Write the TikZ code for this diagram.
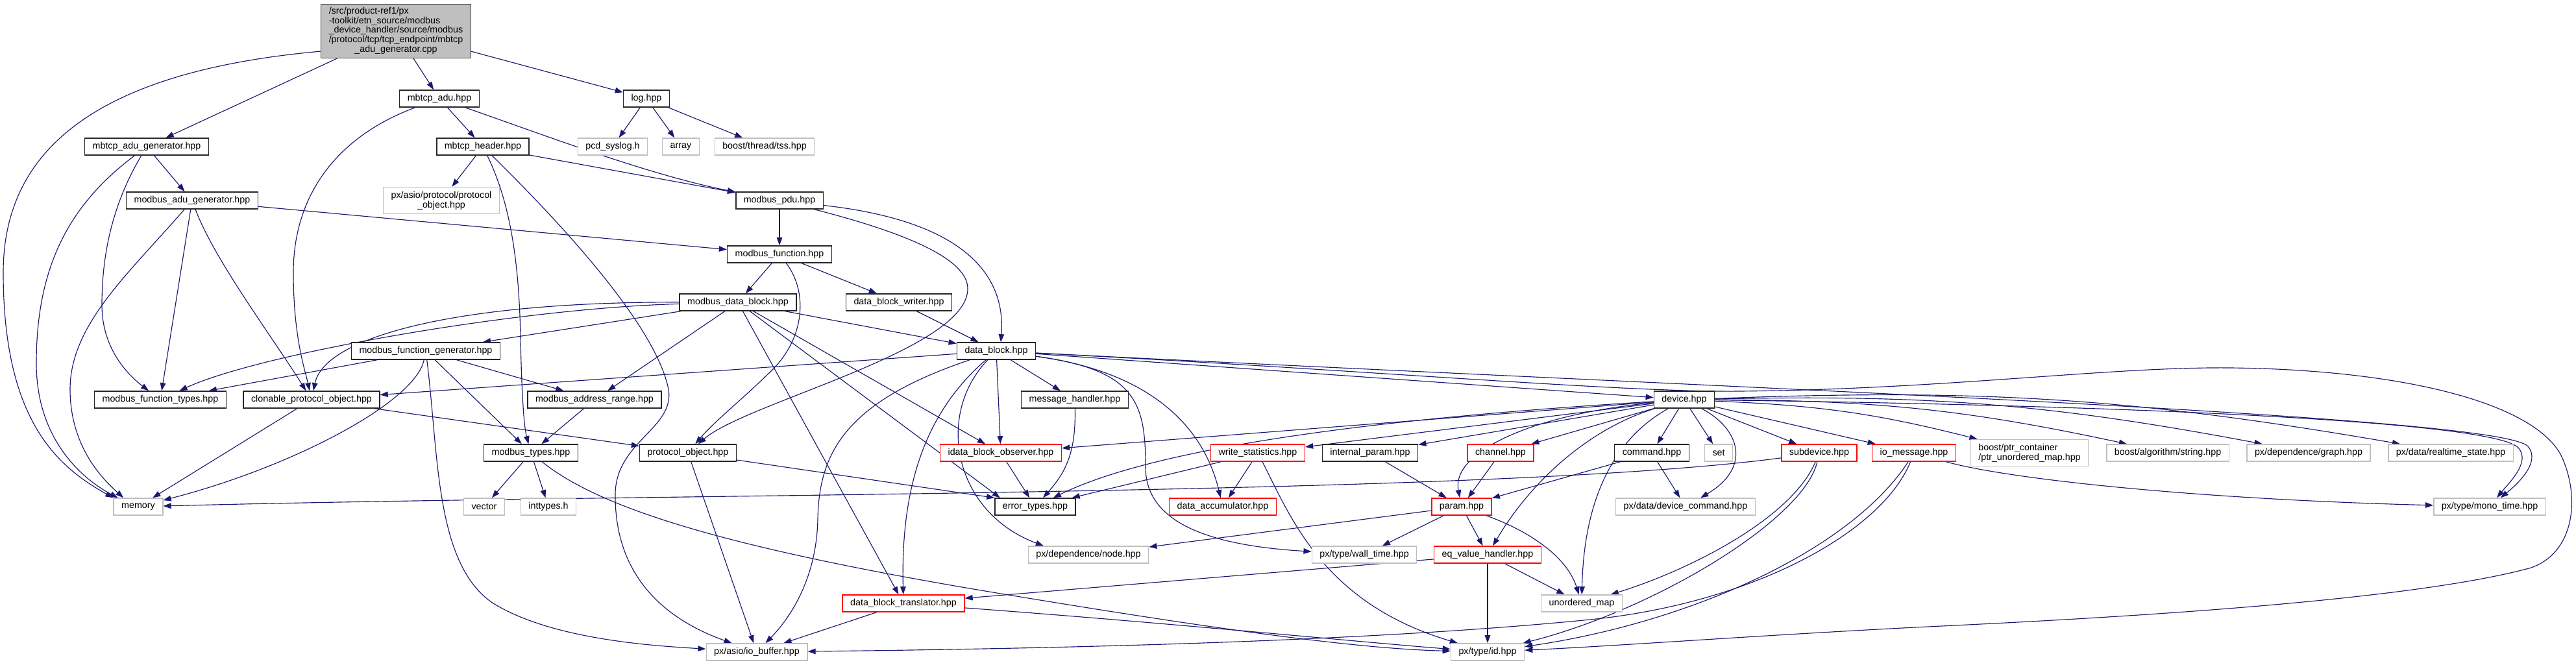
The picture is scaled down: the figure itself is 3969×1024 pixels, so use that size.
\documentclass[tikz,border=0pt]{standalone}
\usepackage{fontspec}
\setmainfont{Liberation Sans}
\usetikzlibrary{arrows.meta, backgrounds}
\definecolor{edgeblue}{HTML}{191970}
\definecolor{extgray}{HTML}{BFBFBF}
\definecolor{maingray}{HTML}{BFBFBF}
\definecolor{truncred}{HTML}{FF0000}

\begin{document}
\begin{tikzpicture}[
    x=0.7pt, y=-0.7pt,
    % Styles
    hdr/.style={
      rectangle, draw=black!85, line width=1pt, fill=white,
      font=\fontsize{10}{10.4}\selectfont,
      inner xsep=8.4pt, inner ysep=2pt, minimum height=18.2pt
    },
    ext_hdr/.style={hdr, draw=extgray},
    trunc_hdr/.style={hdr, draw=truncred},
    main_file/.style={hdr, fill=maingray, draw=black!75, inner ysep=3pt},
    incl_arrow/.style={
      draw=edgeblue, line width=0.8pt,
      -{Triangle[length=8.5pt,width=6pt]}
    }
  ]

  \useasboundingbox (0,0) rectangle (3969,1024);

  % --- 1. NODES (one row per rank) ---

  % rank 0: the source file
  \node[main_file] (cpp) at (610,48) {\begin{tabular}{@{}l@{}}
      /src/product-ref1/px\\
      -toolkit/etn\_source/modbus\\
      \_device\_handler/source/modbus\\
      /protocol/tcp/tcp\_endpoint/mbtcp\\
      \multicolumn{1}{@{}c@{}}{\_adu\_generator.cpp}
    \end{tabular}};

  % rank 1
  \node[hdr] (mbtcp_adu) at (677,152) {mbtcp\_adu.hpp};
  \node[hdr] (log) at (996,152) {log.hpp};

  % rank 2
  \node[hdr] (mbtcp_adu_gen) at (226,226) {mbtcp\_adu\_generator.hpp};
  \node[hdr] (mbtcp_header) at (744,226) {mbtcp\_header.hpp};
  \node[ext_hdr] (pcd_syslog) at (944,226) {pcd\_syslog.h};
  \node[ext_hdr] (array) at (1049,226) {array};
  \node[ext_hdr] (tss) at (1178,226) {boost/thread/tss.hpp};

  % rank 3
  \node[hdr] (modbus_adu_gen) at (296,309) {modbus\_adu\_generator.hpp};
  \node[ext_hdr, align=center, minimum height=28.7pt] (asio_proto_obj) at (680,309) {px/asio/protocol/protocol\\\_object.hpp};
  \node[hdr] (modbus_pdu) at (1201,309) {modbus\_pdu.hpp};

  % rank 4
  \node[hdr] (modbus_function) at (1201,392) {modbus\_function.hpp};

  % rank 5
  \node[hdr] (modbus_data_block) at (1137,466) {modbus\_data\_block.hpp};
  \node[hdr] (data_block_writer) at (1385,466) {data\_block\_writer.hpp};

  % rank 6
  \node[hdr] (modbus_func_gen) at (656,541) {modbus\_function\_generator.hpp};
  \node[hdr] (data_block) at (1535,541) {data\_block.hpp};

  % rank 7
  \node[hdr] (modbus_func_types) at (247,616) {modbus\_function\_types.hpp};
  \node[hdr] (clonable) at (480,616) {clonable\_protocol\_object.hpp};
  \node[hdr] (addr_range) at (916,616) {modbus\_address\_range.hpp};
  \node[hdr] (msg_handler) at (1656,616) {message\_handler.hpp};
  \node[hdr] (device) at (2595,616) {device.hpp};

  % rank 8
  \node[hdr] (modbus_types) at (818,698) {modbus\_types.hpp};
  \node[hdr] (protocol_object) at (1060,698) {protocol\_object.hpp};
  \node[trunc_hdr] (observer) at (1542,698) {idata\_block\_observer.hpp};
  \node[trunc_hdr] (write_stats) at (1938,698) {write\_statistics.hpp};
  \node[hdr] (internal_param) at (2111,698) {internal\_param.hpp};
  \node[trunc_hdr] (channel) at (2312,698) {channel.hpp};
  \node[hdr] (command) at (2545,698) {command.hpp};
  \node[ext_hdr] (set_hdr) at (2648,698) {set};
  \node[trunc_hdr] (subdevice) at (2803,698) {subdevice.hpp};
  \node[trunc_hdr] (io_message) at (2949,698) {io\_message.hpp};
  \node[ext_hdr, align=left, minimum height=28.7pt] (ptr_umap) at (3127,698) {boost/ptr\_container\\/ptr\_unordered\_map.hpp};
  \node[ext_hdr] (algo_string) at (3340,698) {boost/algorithm/string.hpp};
  \node[ext_hdr] (dep_graph) at (3557,698) {px/dependence/graph.hpp};
  \node[ext_hdr] (realtime_state) at (3776,698) {px/data/realtime\_state.hpp};

  % rank 9
  \node[ext_hdr] (memory) at (213,781) {memory};
  \node[ext_hdr] (vector) at (746,781) {vector};
  \node[ext_hdr] (inttypes) at (845,781) {inttypes.h};
  \node[hdr] (error_types) at (1595,781) {error\_types.hpp};
  \node[trunc_hdr] (data_acc) at (1884,781) {data\_accumulator.hpp};
  \node[trunc_hdr] (param) at (2252,781) {param.hpp};
  \node[ext_hdr] (device_command) at (2597,781) {px/data/device\_command.hpp};
  \node[ext_hdr] (mono_time) at (3836,781) {px/type/mono\_time.hpp};

  % rank 10
  \node[ext_hdr] (dep_node) at (1677,855) {px/dependence/node.hpp};
  \node[ext_hdr] (wall_time) at (2102,855) {px/type/wall\_time.hpp};
  \node[trunc_hdr] (eq_value) at (2292,855) {eq\_value\_handler.hpp};

  % rank 11
  \node[trunc_hdr] (translator) at (1392,930) {data\_block\_translator.hpp};
  \node[ext_hdr] (unordered_map) at (2437,930) {unordered\_map};

  % rank 12
  \node[ext_hdr] (io_buffer) at (1166,1005) {px/asio/io\_buffer.hpp};
  \node[ext_hdr] (type_id) at (2292,1005) {px/type/id.hpp};

  % --- 2. EDGES (includes), behind the boxes ---
  \begin{scope}[on background layer]

    % the .cpp file
    \draw[incl_arrow] (cpp.195) .. controls (150,110) and (5,230) .. (5,420) .. controls (5,650) and (90,720) .. (memory.north west);
    \draw[incl_arrow] (cpp) -- (mbtcp_adu_gen);
    \draw[incl_arrow] (cpp) -- (mbtcp_adu);
    \draw[incl_arrow] (cpp) -- (log);

    % mbtcp_adu.hpp
    \draw[incl_arrow] (mbtcp_adu) -- (mbtcp_header);
    \draw[incl_arrow] (mbtcp_adu) .. controls (830,205) and (1000,270) .. (modbus_pdu);
    \draw[incl_arrow] (mbtcp_adu) .. controls (520,210) and (452,300) .. (452,420) .. controls (452,520) and (470,570) .. (clonable);

    % log.hpp
    \draw[incl_arrow] (log) -- (pcd_syslog);
    \draw[incl_arrow] (log) -- (array);
    \draw[incl_arrow] (log) -- (tss);

    % mbtcp_adu_generator.hpp
    \draw[incl_arrow] (mbtcp_adu_gen) -- (modbus_adu_gen);
    \draw[incl_arrow] (mbtcp_adu_gen) .. controls (170,320) and (157,400) .. (157,470) .. controls (157,540) and (200,580) .. (modbus_func_types);
    \draw[incl_arrow] (mbtcp_adu_gen) .. controls (100,320) and (56,420) .. (56,560) .. controls (56,680) and (130,740) .. ([xshift=5pt]memory.north west);

    % mbtcp_header.hpp
    \draw[incl_arrow] (mbtcp_header) -- (asio_proto_obj);
    \draw[incl_arrow] (mbtcp_header) -- (modbus_pdu);
    \draw[incl_arrow] (mbtcp_header) .. controls (790,320) and (800,420) .. (802,520) .. controls (804,620) and (808,660) .. (modbus_types);
    \draw[incl_arrow] (mbtcp_header) .. controls (860,340) and (1010,500) .. (1030,600) .. controls (1040,660) and (950,680) .. (948,760) .. controls (946,900) and (1040,960) .. (io_buffer);

    % modbus_adu_generator.hpp
    \draw[incl_arrow] (modbus_adu_gen) -- (modbus_function);
    \draw[incl_arrow] (modbus_adu_gen) -- (modbus_func_types);
    \draw[incl_arrow] (modbus_adu_gen) .. controls (330,400) and (420,520) .. (clonable);
    \draw[incl_arrow] (modbus_adu_gen) .. controls (200,420) and (108,500) .. (108,600) .. controls (108,690) and (160,740) .. ([xshift=11pt]memory.north west);

    % modbus_pdu.hpp
    \draw[incl_arrow] (modbus_pdu) -- (modbus_function);
    \draw[incl_arrow] (modbus_pdu) .. controls (1400,360) and (1491,400) .. (1491,445) .. controls (1491,540) and (1150,620) .. (protocol_object);
    \draw[incl_arrow] (modbus_pdu) .. controls (1480,340) and (1550,420) .. ([xshift=4.9pt]data_block.north);

    % modbus_function.hpp
    \draw[incl_arrow] (modbus_function) -- (modbus_data_block);
    \draw[incl_arrow] (modbus_function) -- (data_block_writer);
    \draw[incl_arrow] (modbus_function) .. controls (1245,450) and (1240,520) .. (1190,570) .. controls (1150,610) and (1100,650) .. (protocol_object);

    % data_block_writer.hpp
    \draw[incl_arrow] (data_block_writer) -- (data_block);

    % modbus_data_block.hpp
    \draw[incl_arrow] (modbus_data_block) -- (data_block);
    \draw[incl_arrow] (modbus_data_block) .. controls (800,475) and (400,545) .. (modbus_func_types);
    \draw[incl_arrow] (modbus_data_block) .. controls (700,465) and (500,520) .. (clonable);
    \draw[incl_arrow] (modbus_data_block) -- (modbus_func_gen);
    \draw[incl_arrow] (modbus_data_block) -- (addr_range);
    \draw[incl_arrow] (modbus_data_block) -- (translator);
    \draw[incl_arrow] (modbus_data_block) -- ([xshift=6pt]error_types.north west);
    \draw[incl_arrow] (modbus_data_block) -- (observer);

    % data_block.hpp
    \draw[incl_arrow] (data_block) -- (clonable);
    \draw[incl_arrow] (data_block) .. controls (1300,620) and (1262,700) .. (1260,800) .. controls (1258,900) and (1210,960) .. (io_buffer);
    \draw[incl_arrow] (data_block) .. controls (1420,640) and (1388,760) .. (translator);
    \draw[incl_arrow] (data_block) .. controls (1440,640) and (1470,790) .. ([xshift=17pt]dep_node.north west);
    \draw[incl_arrow] (data_block) -- (observer);
    \draw[incl_arrow] (data_block) -- (msg_handler);
    \draw[incl_arrow] (data_block) -- (device);
    \draw[incl_arrow] (data_block) .. controls (1750,570) and (1765,620) .. (1765,720) .. controls (1765,800) and (1850,840) .. (wall_time);
    \draw[incl_arrow] (data_block) .. controls (1750,570) and (1850,640) .. (data_acc);
    \draw[incl_arrow] (data_block) .. controls (2700,600) and (3850,640) .. (3895,688) .. controls (3915,712) and (3880,745) .. (mono_time);
    \draw[incl_arrow] (data_block) .. controls (2100,570) and (2500,605) .. (2680,603) .. controls (3000,600) and (3250,565) .. (3437,567) .. controls (3700,570) and (3900,620) .. (3945,700) .. controls (3975,760) and (3970,850) .. (3900,875) .. controls (3700,930) and (3200,955) .. (2950,967) .. controls (2700,980) and (2500,995) .. (type_id);

    % message_handler.hpp
    \draw[incl_arrow] (msg_handler) .. controls (1658,700) and (1640,730) .. (error_types);

    % device.hpp
    \draw[incl_arrow] (device) -- (observer);
    \draw[incl_arrow] (device) .. controls (2200,640) and (1800,680) .. (error_types);
    \draw[incl_arrow] (device) -- (write_stats);
    \draw[incl_arrow] (device) -- (internal_param);
    \draw[incl_arrow] (device) -- (channel);
    \draw[incl_arrow] (device) .. controls (2350,640) and (2236,700) .. (param);
    \draw[incl_arrow] (device) .. controls (2450,660) and (2360,740) .. (eq_value);
    \draw[incl_arrow] (device) .. controls (2480,680) and (2440,780) .. (unordered_map);
    \draw[incl_arrow] (device) -- (command);
    \draw[incl_arrow] (device) -- (set_hdr);
    \draw[incl_arrow] (device) .. controls (2680,660) and (2700,720) .. (device_command);
    \draw[incl_arrow] (device) -- (subdevice);
    \draw[incl_arrow] (device) -- (io_message);
    \draw[incl_arrow] (device) to[bend left=6] (ptr_umap);
    \draw[incl_arrow] (device) to[bend left=6] (algo_string);
    \draw[incl_arrow] (device) to[bend left=6] (dep_graph);
    \draw[incl_arrow] (device) to[bend left=6] (realtime_state);
    \draw[incl_arrow] (device) .. controls (3300,625) and (3840,650) .. (3880,690) .. controls (3900,712) and (3865,745) .. (mono_time);

    % write_statistics.hpp
    \draw[incl_arrow] (write_stats) -- (error_types);
    \draw[incl_arrow] (write_stats) -- (data_acc);
    \draw[incl_arrow] (write_stats) .. controls (1990,800) and (2040,930) .. (type_id);

    % internal_param.hpp, channel.hpp, command.hpp
    \draw[incl_arrow] (internal_param) -- (param);
    \draw[incl_arrow] (channel) -- (param);
    \draw[incl_arrow] (command) -- (param);
    \draw[incl_arrow] (command) -- (device_command);

    % param.hpp
    \draw[incl_arrow] (param) -- (dep_node);
    \draw[incl_arrow] (param) -- (wall_time);
    \draw[incl_arrow] (param) -- (eq_value);
    \draw[incl_arrow] (param) .. controls (2360,820) and (2415,860) .. (unordered_map);

    % eq_value_handler.hpp
    \draw[incl_arrow] (eq_value) -- (unordered_map);
    \draw[incl_arrow] (eq_value) -- (type_id);
    \draw[incl_arrow] (eq_value) -- (translator);

    % subdevice.hpp
    \draw[incl_arrow] (subdevice) .. controls (2300,765) and (1000,760) .. (memory);
    \draw[incl_arrow] (subdevice) .. controls (2760,800) and (2600,880) .. (unordered_map);
    \draw[incl_arrow] (subdevice) .. controls (2780,800) and (2550,940) .. (type_id);

    % io_message.hpp
    \draw[incl_arrow] (io_message) .. controls (2850,850) and (2600,960) .. (type_id);
    \draw[incl_arrow] (io_message) .. controls (2900,820) and (2700,930) .. (2450,955) .. controls (2100,990) and (1600,1000) .. (io_buffer);
    \draw[incl_arrow] (io_message) .. controls (3100,740) and (3400,770) .. (mono_time);

    % modbus_function_generator.hpp
    \draw[incl_arrow] (modbus_func_gen) -- (modbus_func_types);
    \draw[incl_arrow] (modbus_func_gen) .. controls (640,620) and (450,720) .. (memory);
    \draw[incl_arrow] (modbus_func_gen) -- (modbus_types);
    \draw[incl_arrow] (modbus_func_gen) -- (addr_range);
    \draw[incl_arrow] (modbus_func_gen) .. controls (676,700) and (670,870) .. (760,930) .. controls (850,985) and (1000,995) .. (io_buffer);

    % clonable_protocol_object.hpp
    \draw[incl_arrow] (clonable) -- (memory);
    \draw[incl_arrow] (clonable) -- (protocol_object);

    % modbus_address_range.hpp
    \draw[incl_arrow] (addr_range) -- (modbus_types);

    % modbus_types.hpp
    \draw[incl_arrow] (modbus_types) -- (vector);
    \draw[incl_arrow] (modbus_types) -- (inttypes);
    \draw[incl_arrow] (modbus_types) .. controls (920,780) and (1100,840) .. (1500,908) .. controls (1900,975) and (2100,1000) .. (type_id);

    % protocol_object.hpp
    \draw[incl_arrow] (protocol_object) -- (io_buffer);
    \draw[incl_arrow] (protocol_object) -- (error_types.north west);

    % data_block_translator.hpp
    \draw[incl_arrow] (translator) -- (io_buffer);
    \draw[incl_arrow] (translator) .. controls (1800,960) and (2100,990) .. (type_id);

    % idata_block_observer.hpp
    \draw[incl_arrow] (observer) -- (error_types);

  \end{scope}

\end{tikzpicture}
\end{document}
